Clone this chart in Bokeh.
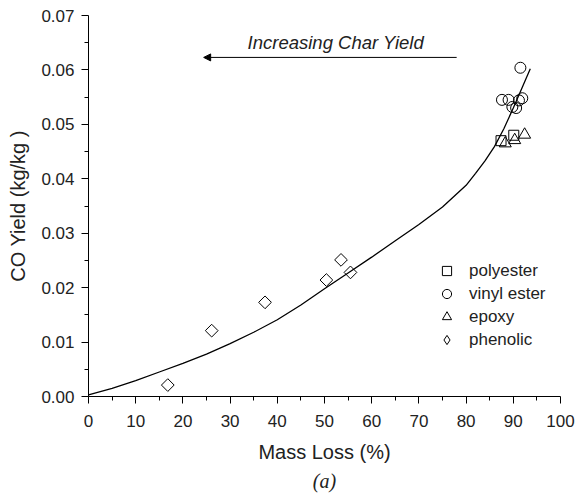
import math
from bokeh.plotting import figure
from bokeh.models import (Range1d, FixedTicker, PrintfTickFormatter, Legend, LegendItem,
                          Arrow, NormalHead, Label, Title)
from bokeh.embed import file_html
from bokeh.resources import INLINE

# ---------------- data ----------------
polyester_x = [87.4, 90.1]
polyester_y = [0.0470, 0.0480]

vinyl_x = [91.5, 87.6, 89.0, 91.9, 91.2, 89.8, 90.6]
vinyl_y = [0.0604, 0.0545, 0.0545, 0.0548, 0.0544, 0.0532, 0.0530]

epoxy_x = [88.3, 90.3, 92.4]
epoxy_y = [0.0465, 0.0471, 0.0481]

phenolic_x = [16.8, 26.1, 37.4, 50.4, 53.5, 55.5]
phenolic_y = [0.0021, 0.0121, 0.0173, 0.0214, 0.0251, 0.0228]

curve_x = [0, 5, 10, 15, 20, 25, 30, 35, 40, 45, 50, 55, 60, 65, 70, 75, 80,
           82, 84, 86, 88, 90, 92, 93.6]
curve_y = [0.0003, 0.0015, 0.0029, 0.0045, 0.0061, 0.0078, 0.0097, 0.0118, 0.0141,
           0.0168, 0.0198, 0.0227, 0.0256, 0.0286, 0.0316, 0.0348, 0.0388,
           0.0410, 0.0433, 0.0459, 0.0492, 0.0530, 0.0570, 0.0602]

x_ticks = [0, 10, 20, 30, 40, 50, 60, 70, 80, 90, 100]
x_minor = [5, 15, 25, 35, 45, 55, 65, 75, 85, 95]
y_ticks = [0.0, 0.01, 0.02, 0.03, 0.04, 0.05, 0.06, 0.07]
y_minor = [0.005, 0.015, 0.025, 0.035, 0.045, 0.055, 0.065]

series_labels = ["polyester", "vinyl ester", "epoxy", "phenolic"]
x_title = "Mass Loss (%)"
y_title = "CO Yield (kg/kg )"
annot_text = "Increasing Char Yield"
caption_text = "(a)"

# annotation anchors (data units)
arrow_from = (78.0, 0.0623)
arrow_to = (24.4, 0.0623)
annot_pos = (52.4, 0.0650)

TXT = "#222222"
FONT = "Liberation Sans"

p = figure(width=577, height=497, output_backend="svg", toolbar_location=None,
           x_range=Range1d(0, 100), y_range=Range1d(0, 0.07),
           min_border_left=88, min_border_right=17, min_border_top=15, min_border_bottom=101)
p.outline_line_color = None
p.grid.visible = False
p.background_fill_color = "white"
p.border_fill_color = "white"

p.xaxis.ticker = FixedTicker(ticks=x_ticks, minor_ticks=x_minor)
p.yaxis.ticker = FixedTicker(ticks=y_ticks, minor_ticks=y_minor)
p.yaxis.formatter = PrintfTickFormatter(format="%.2f")

for ax in (p.xaxis[0], p.yaxis[0]):
    ax.axis_line_color = "black"
    ax.axis_line_width = 1
    ax.major_tick_line_color = "black"
    ax.minor_tick_line_color = "black"
    ax.major_tick_in = 0
    ax.major_tick_out = 7
    ax.minor_tick_in = 0
    ax.minor_tick_out = 4
    ax.major_label_text_font = FONT
    ax.major_label_text_font_size = "17px"
    ax.major_label_text_color = TXT
    ax.axis_label_text_font = FONT
    ax.axis_label_text_font_size = "20px"
    ax.axis_label_text_font_style = "normal"
    ax.axis_label_text_color = TXT

p.xaxis.axis_label = x_title
p.yaxis.axis_label = y_title
p.xaxis.major_label_standoff = 11
p.yaxis.major_label_standoff = 7
p.xaxis.axis_label_standoff = 11
p.yaxis.axis_label_standoff = 9

# fitted curve
p.line(curve_x, curve_y, line_color="black", line_width=1.3)

r_sq = p.scatter(polyester_x, polyester_y, marker="square", size=10,
                 fill_color=None, line_color="black", line_width=1)
r_ci = p.scatter(vinyl_x, vinyl_y, marker="circle", size=11,
                 fill_color=None, line_color="black", line_width=1)
r_tr = p.scatter(epoxy_x, epoxy_y, marker="triangle", size=12,
                 fill_color=None, line_color="black", line_width=1)
r_di = p.scatter(phenolic_x, phenolic_y, marker="square", size=9, angle=math.pi / 4,
                 fill_color=None, line_color="black", line_width=1)
# legend swatch for the diamond (legend glyphs ignore marker angle); zero size on the plot
r_di_leg = p.scatter(phenolic_x, phenolic_y, marker="diamond", size=0,
                     fill_color=None, line_color="black", line_width=1)

legend = Legend(items=[LegendItem(label=series_labels[0], renderers=[r_sq]),
                       LegendItem(label=series_labels[1], renderers=[r_ci]),
                       LegendItem(label=series_labels[2], renderers=[r_tr]),
                       LegendItem(label=series_labels[3], renderers=[r_di_leg])],
                location=(347, 45), border_line_color=None, background_fill_alpha=0,
                padding=5, spacing=0, margin=0, glyph_width=23, glyph_height=23,
                label_height=23, label_standoff=11, label_text_font=FONT,
                label_text_font_size="17px", label_text_color=TXT)
p.add_layout(legend)

p.add_layout(Arrow(end=NormalHead(size=7, fill_color="black", line_color="black", line_width=1),
                   x_start=arrow_from[0], y_start=arrow_from[1],
                   x_end=arrow_to[0], y_end=arrow_to[1],
                   line_color="black", line_width=1))

p.add_layout(Label(x=annot_pos[0], y=annot_pos[1], text=annot_text, text_font=FONT,
                   text_font_style="italic", text_font_size="18.5px", text_align="center",
                   text_baseline="alphabetic", text_color=TXT))

p.add_layout(Title(text=caption_text, align="center", text_font="Liberation Serif",
                   text_font_style="italic", text_font_size="20px", text_color=TXT,
                   standoff=5), "below")

open("out.html", "w").write(file_html(p, INLINE))
